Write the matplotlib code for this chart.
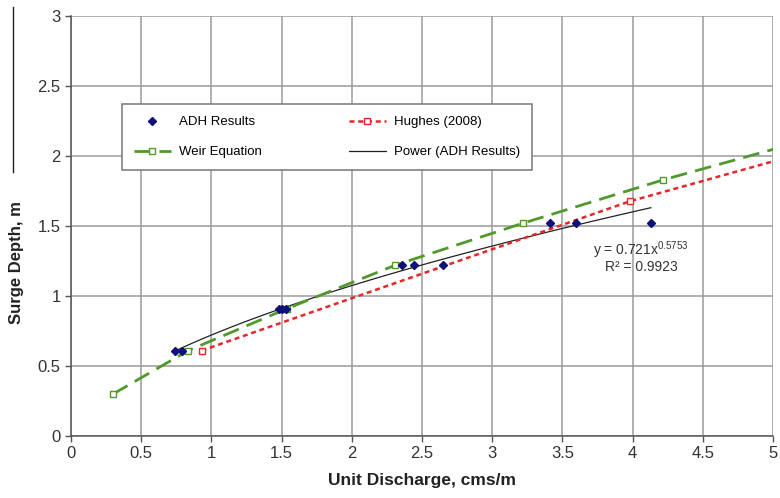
import numpy as np
import matplotlib
matplotlib.use("Agg")
import matplotlib.pyplot as plt
from matplotlib.lines import Line2D

# --------------------------
# Datos
# --------------------------
adh_x = [0.74, 0.79, 1.48, 1.50, 1.53, 2.36, 2.44, 2.65, 3.41, 3.60, 4.13]
adh_y = [0.61, 0.61, 0.91, 0.91, 0.91, 1.22, 1.22, 1.22, 1.52, 1.52, 1.52]

hughes_x = [0.93, 3.98, 5.30]
hughes_y = [0.61, 1.676, 2.045]

weir_x = [0.30, 0.835, 1.54, 2.31, 3.22, 4.22, 5.30]
weir_y = [0.30, 0.61, 0.91, 1.22, 1.52, 1.83, 2.13]

# ajuste potencial y = a x^b
fit_a = 0.721
fit_b = 0.5753
fit_r2 = 0.9923

xticks = [0, 0.5, 1, 1.5, 2, 2.5, 3, 3.5, 4, 4.5, 5]
yticks = [0, 0.5, 1, 1.5, 2, 2.5, 3]

plt.rcParams["font.family"] = ["Liberation Sans", "DejaVu Sans"]
plt.rcParams["mathtext.fontset"] = "custom"
plt.rcParams["mathtext.rm"] = "Liberation Sans"
plt.rcParams["mathtext.it"] = "Liberation Sans"

fig = plt.figure(figsize=(7.8, 4.98), dpi=100)
ax = fig.add_axes([0.091, 0.1245, 0.900, 0.8435])

# Ajuste potencial (linea negra)
xf = np.linspace(min(adh_x), max(adh_x), 100)
ax.plot(xf, fit_a * xf ** fit_b, color="#222222", lw=0.9, label="Power (ADH Results)", zorder=3)

# Weir
ax.plot(weir_x, weir_y, color="#4f9a2a", lw=2.0, ls=(0, (6, 3)), marker="s", ms=5,
        mfc="white", mec="#4f9a2a", mew=1.0, label="Weir Equation", zorder=4)

# Hughes
ax.plot(hughes_x, hughes_y, color="#e8262a", lw=1.8, ls=(0, (2, 1.5)), marker="s", ms=5,
        mfc="white", mec="#e8262a", mew=1.0, label="Hughes (2008)", zorder=4)

# ADH
ax.plot(adh_x, adh_y, ls="none", marker="D", ms=4.5, color="#10107a", label="ADH Results", zorder=5)

ax.set_xlim(0, 5)
ax.set_ylim(0, 3)
ax.set_xticks(xticks)
ax.set_yticks(yticks)
ax.set_xticklabels([f"{t:g}" for t in xticks])
ax.set_yticklabels([f"{t:g}" for t in yticks])
ax.tick_params(direction="out", length=4, width=1, colors="#555555", labelcolor="#333333", labelsize=12)
ax.grid(True, color="#9a9a9a", lw=1.1)
ax.set_axisbelow(True)
for side in ["top", "right"]:
    ax.spines[side].set_visible(False)
for side in ["left", "bottom"]:
    ax.spines[side].set_color("#555555")
    ax.spines[side].set_linewidth(1.1)

ax.set_xlabel("Unit Discharge, cms/m", fontsize=12.5, fontweight="bold", color="#222222", labelpad=8)
ax.set_ylabel("Surge Depth, m", fontsize=12, fontweight="bold", color="#222222")
ax.yaxis.set_label_coords(-0.067, 0.414)

ax.text(4.06, 1.33, f"y = {fit_a}x" + r"$^{\mathrm{" + f"{fit_b}" + r"}}$", ha="center", va="center",
        fontsize=10, color="#333333")
ax.text(4.06, 1.21, f"R² = {fit_r2}", ha="center", va="center", fontsize=10, color="#333333")

handles, labels = ax.get_legend_handles_labels()
# ADH, Weir en col 1; Hughes, Power en col 2
h = [handles[3], handles[1], handles[2], handles[0]]
l = [labels[3], labels[1], labels[2], labels[0]]
leg = ax.legend(h, l, ncol=2, loc="upper left", bbox_to_anchor=(0.0726, 0.790), borderaxespad=0,
                frameon=True, fancybox=False, edgecolor="#777777", framealpha=1,
                columnspacing=6.6, handlelength=2.8, handletextpad=0.6, borderpad=0.9,
                labelspacing=1.35, prop={"family": "Liberation Sans", "size": 9.5})
leg.get_frame().set_linewidth(1.1)

# linea negra de recorte a la izquierda (como en la imagen original)
fig.add_artist(Line2D([13 / 780, 13 / 780], [1 - 7 / 498, 1 - 172 / 498], color="#222222", lw=1.0))

plt.savefig("out.png", dpi=100)
